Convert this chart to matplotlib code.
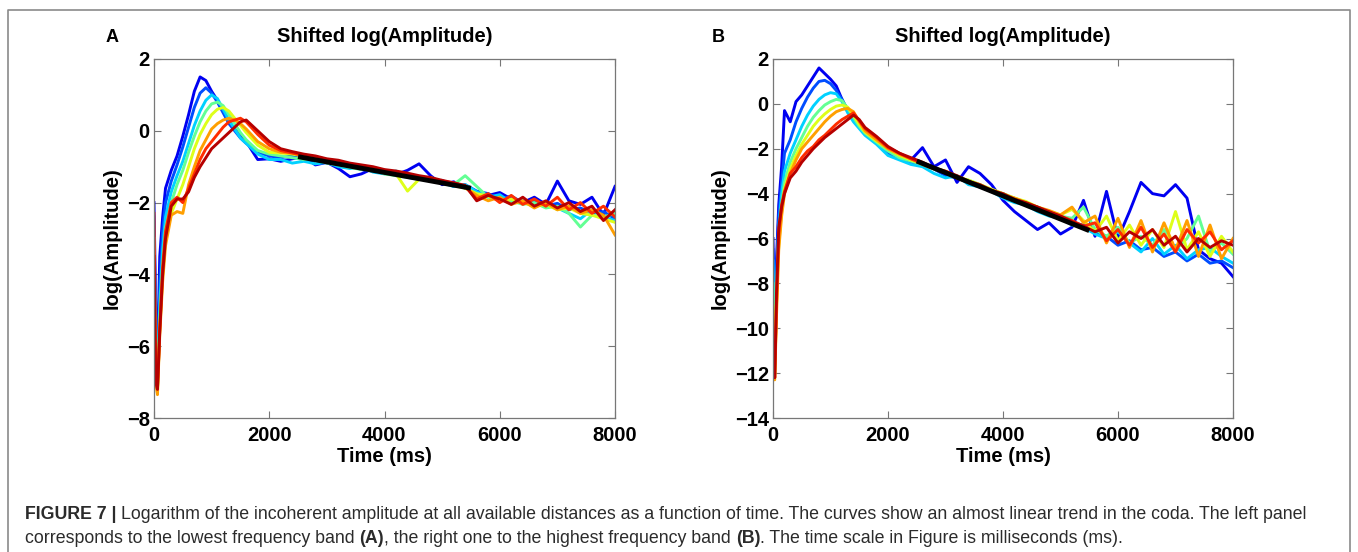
import matplotlib
matplotlib.use('Agg')
import matplotlib.pyplot as plt
from matplotlib.lines import Line2D

plt.rcParams['font.family'] = ['Liberation Sans', 'DejaVu Sans']

# sampling times (ms), shared by all curves
time_ms = [0, 30, 60, 100, 150, 200, 300, 400, 500, 600, 700, 800, 900, 1000,
           1100, 1200, 1300, 1400, 1500, 1600, 1800, 2000,
           2200, 2400, 2600, 2800, 3000, 3200, 3400, 3600, 3800, 4000,
           4200, 4400, 4600, 4800, 5000, 5200, 5400, 5600, 5800, 6000,
           6200, 6400, 6600, 6800, 7000, 7200, 7400, 7600, 7800, 8000]

# panel A: lowest frequency band, nearest (blue) to farthest (red) distance
a_curve1 = [-2.0, -5.0, -6.5, -3.5, -2.4, -1.6, -1.1, -0.7, -0.15, 0.45, 1.1, 1.5, 1.4, 1.1,
            0.85, 0.55, 0.25, 0.05, -0.1, -0.3, -0.8, -0.78,
            -0.85, -0.78, -0.72, -0.95, -0.88, -1.05, -1.28, -1.2, -1.05, -1.15,
            -1.22, -1.1, -0.92, -1.25, -1.5, -1.42, -1.6, -1.7, -1.8, -1.72,
            -1.9, -2.0, -1.85, -2.05, -1.4, -1.95, -2.05, -1.85, -2.35, -1.55]
a_curve2 = [-2.4, -5.8, -6.9, -4.2, -2.8, -2.0, -1.4, -0.95, -0.45, 0.1, 0.65, 1.05, 1.2, 1.05,
            0.8, 0.5, 0.2, 0.0, -0.2, -0.35, -0.6, -0.7,
            -0.75, -0.7, -0.82, -0.78, -0.9, -0.95, -0.92, -1.08, -1.12, -1.1,
            -1.25, -1.22, -1.3, -1.4, -1.38, -1.55, -1.5, -1.68, -1.75, -1.9,
            -1.82, -2.0, -1.95, -2.1, -2.02, -2.2, -2.15, -2.3, -2.25, -2.45]
a_curve3 = [-3.0, -6.2, -7.0, -4.8, -3.3, -2.4, -1.7, -1.25, -0.85, -0.35, 0.15, 0.55, 0.85, 1.0,
            0.9, 0.6, 0.3, 0.05, -0.2, -0.35, -0.65, -0.8,
            -0.8, -0.9, -0.85, -0.92, -0.88, -1.0, -1.05, -1.0, -1.15, -1.2,
            -1.12, -1.3, -1.35, -1.3, -1.45, -1.55, -1.5, -1.7, -1.85, -1.78,
            -2.0, -1.95, -2.05, -2.0, -2.15, -2.3, -2.45, -2.2, -2.4, -2.5]
a_curve4 = [-3.5, -6.5, -7.2, -5.2, -3.7, -2.7, -2.0, -1.5, -1.1, -0.6, -0.15, 0.25, 0.55, 0.75,
            0.8, 0.7, 0.45, 0.2, -0.05, -0.25, -0.55, -0.65,
            -0.7, -0.75, -0.8, -0.78, -0.9, -0.95, -1.02, -1.08, -1.05, -1.2,
            -1.25, -1.3, -1.28, -1.4, -1.45, -1.5, -1.25, -1.55, -1.85, -1.9,
            -1.95, -2.05, -2.0, -2.15, -2.1, -2.3, -2.68, -2.35, -2.4, -2.3]
a_curve5 = [-4.0, -6.8, -7.3, -5.5, -4.0, -3.0, -2.3, -1.9, -1.5, -1.0, -0.5, -0.1, 0.2, 0.45,
            0.6, 0.65, 0.55, 0.35, 0.15, -0.05, -0.4, -0.6,
            -0.62, -0.65, -0.7, -0.8, -0.85, -0.88, -0.95, -1.0, -1.08, -1.1,
            -1.2, -1.68, -1.35, -1.3, -1.45, -1.52, -1.6, -1.75, -1.82, -1.95,
            -1.9, -2.0, -2.1, -2.05, -2.2, -2.15, -2.3, -2.35, -2.45, -2.55]
a_curve6 = [-4.5, -7.0, -7.35, -5.7, -4.2, -3.2, -2.35, -2.25, -2.3, -1.5, -1.0, -0.55, -0.25, 0.05,
            0.2, 0.3, 0.35, 0.3, 0.2, 0.05, -0.3, -0.5,
            -0.6, -0.62, -0.72, -0.75, -0.82, -0.9, -0.95, -1.02, -1.05, -1.12,
            -1.18, -1.25, -1.3, -1.35, -1.42, -1.5, -1.58, -1.8, -1.95, -1.85,
            -2.05, -1.95, -2.15, -2.0, -2.2, -2.1, -2.3, -2.2, -2.35, -2.9]
a_curve7 = [-2.3, -6.8, -7.2, -5.5, -3.8, -2.8, -2.0, -1.85, -2.0, -1.6, -1.2, -0.8, -0.5, -0.3,
            -0.1, 0.1, 0.25, 0.3, 0.35, 0.25, -0.1, -0.4,
            -0.55, -0.62, -0.68, -0.72, -0.8, -0.85, -0.92, -0.98, -1.05, -1.1,
            -1.15, -1.22, -1.28, -1.32, -1.4, -1.45, -1.55, -1.9, -1.75, -2.0,
            -1.8, -2.05, -1.9, -2.1, -1.85, -2.2, -2.0, -2.3, -2.1, -2.4]
a_curve8 = [-3.5, -7.0, -7.2, -5.6, -4.0, -3.0, -2.1, -1.9, -1.9, -1.7, -1.3, -1.0, -0.75, -0.5,
            -0.35, -0.2, -0.05, 0.1, 0.25, 0.3, 0.0, -0.3,
            -0.5, -0.58, -0.65, -0.7, -0.78, -0.82, -0.9, -0.95, -1.0, -1.08,
            -1.12, -1.18, -1.25, -1.3, -1.38, -1.45, -1.52, -1.95, -1.8, -1.9,
            -2.05, -1.85, -2.1, -1.95, -2.15, -2.0, -2.25, -2.1, -2.5, -2.2]

# panel B: highest frequency band
b_curve1 = [-6.0, -10.5, -7.0, -4.5, -2.8, -0.3, -0.8, 0.1, 0.4, 0.8, 1.2, 1.6, 1.35, 1.1,
            0.8, 0.2, -0.3, -0.6, -0.9, -1.2, -1.75, -2.1,
            -2.3, -2.5, -1.95, -2.8, -2.5, -3.5, -2.8, -3.1, -3.6, -4.3,
            -4.8, -5.2, -5.6, -5.3, -5.8, -5.5, -4.3, -5.9, -3.9, -6.0,
            -4.8, -3.5, -4.0, -4.1, -3.6, -4.2, -6.5, -6.9, -7.1, -7.7]
b_curve2 = [-6.5, -11.0, -7.5, -5.0, -3.5, -2.2, -1.6, -0.8, -0.2, 0.3, 0.7, 1.0, 1.05, 0.9,
            0.6, 0.2, -0.3, -0.7, -1.0, -1.3, -1.7, -2.2,
            -2.4, -2.6, -2.7, -2.9, -3.2, -3.3, -3.5, -3.7, -3.9, -4.0,
            -4.3, -4.5, -4.6, -4.9, -5.0, -5.3, -5.4, -5.7, -5.9, -6.3,
            -6.1, -6.5, -6.4, -6.8, -6.6, -7.0, -6.7, -7.1, -7.0, -7.3]
b_curve3 = [-7.0, -11.5, -8.0, -5.5, -4.0, -3.0, -2.2, -1.6, -1.0, -0.5, -0.1, 0.2, 0.4, 0.5,
            0.45, 0.1, -0.4, -0.8, -1.1, -1.4, -1.8, -2.3,
            -2.5, -2.7, -2.8, -3.1, -3.3, -3.2, -3.6, -3.7, -3.9, -4.2,
            -4.4, -4.5, -4.8, -5.0, -5.1, -5.4, -5.5, -5.8, -6.0, -5.7,
            -6.2, -6.6, -6.0, -6.7, -6.3, -6.9, -6.5, -6.4, -6.8, -7.1]
b_curve4 = [-8.0, -12.0, -8.5, -6.0, -4.5, -3.5, -2.6, -2.0, -1.5, -1.0, -0.6, -0.3, -0.05, 0.1,
            0.2, 0.15, -0.2, -0.6, -1.0, -1.3, -1.7, -2.1,
            -2.4, -2.55, -2.7, -2.9, -3.05, -3.3, -3.4, -3.6, -3.85, -4.0,
            -4.2, -4.4, -4.6, -4.8, -5.0, -5.1, -4.6, -5.6, -5.9, -5.5,
            -6.2, -5.9, -6.3, -5.6, -6.5, -6.0, -5.0, -6.6, -6.2, -6.7]
b_curve5 = [-9.0, -12.2, -9.0, -6.3, -4.8, -3.8, -2.9, -2.3, -1.8, -1.4, -1.0, -0.7, -0.45, -0.25,
            -0.1, -0.05, -0.15, -0.5, -0.9, -1.25, -1.65, -2.0,
            -2.3, -2.5, -2.65, -2.85, -3.0, -3.25, -3.4, -3.6, -3.8, -4.0,
            -4.2, -4.35, -4.6, -4.8, -4.95, -4.7, -5.2, -5.7, -5.0, -6.1,
            -5.4, -6.3, -5.6, -6.4, -4.8, -6.5, -5.7, -6.8, -5.9, -6.6]
b_curve6 = [-10.0, -12.3, -9.5, -6.5, -5.0, -4.0, -3.1, -2.5, -2.0, -1.7, -1.4, -1.1, -0.8, -0.55,
            -0.35, -0.25, -0.2, -0.35, -0.8, -1.2, -1.6, -2.0,
            -2.25, -2.45, -2.7, -2.9, -3.05, -3.3, -3.45, -3.65, -3.85, -4.05,
            -4.2, -4.4, -4.6, -4.75, -4.95, -4.6, -5.3, -5.0, -6.2, -5.1,
            -6.4, -5.2, -6.6, -5.3, -6.5, -5.2, -6.8, -5.4, -6.9, -6.0]
b_curve7 = [-11.0, -12.2, -9.0, -5.8, -4.5, -3.9, -3.1, -2.8, -2.4, -2.1, -1.9, -1.6, -1.4, -1.15,
            -0.9, -0.7, -0.55, -0.4, -0.75, -1.1, -1.5, -1.95,
            -2.2, -2.45, -2.65, -2.85, -3.05, -3.3, -3.5, -3.65, -3.9, -4.05,
            -4.25, -4.45, -4.6, -4.85, -5.0, -5.2, -5.45, -5.3, -6.1, -5.6,
            -6.3, -5.5, -6.4, -5.8, -6.6, -5.6, -6.2, -5.7, -6.5, -6.1]
b_curve8 = [-12.0, -12.2, -8.5, -5.5, -4.6, -4.0, -3.3, -3.0, -2.6, -2.3, -2.0, -1.75, -1.5, -1.3,
            -1.1, -0.9, -0.7, -0.5, -0.7, -1.05, -1.45, -1.9,
            -2.2, -2.4, -2.6, -2.85, -3.0, -3.2, -3.45, -3.6, -3.85, -4.0,
            -4.25, -4.4, -4.6, -4.8, -5.0, -5.25, -5.45, -5.7, -5.5, -6.2,
            -5.7, -6.0, -5.6, -6.3, -5.9, -6.6, -6.0, -6.4, -6.1, -6.3]

# linear coda fits
fit_t = [2500, 5500]
fit_a = [-0.72, -1.6]
fit_b = [-2.55, -5.65]

# position of each curve in the jet colormap (near -> far)
jet_pos = [0.1, 0.2, 0.33, 0.47, 0.62, 0.74, 0.86, 0.95]

curves_a = [a_curve1, a_curve2, a_curve3, a_curve4, a_curve5, a_curve6, a_curve7, a_curve8]
curves_b = [b_curve1, b_curve2, b_curve3, b_curve4, b_curve5, b_curve6, b_curve7, b_curve8]

W, H = 1358, 552
fig = plt.figure(figsize=(W / 100, H / 100), dpi=100)
jet = plt.get_cmap('jet')


def draw_panel(rect, curves, fit_v, ylim, yticks, letter, letter_x):
    ax = fig.add_axes(rect)
    for pos, vals in zip(jet_pos, curves):
        ax.plot(time_ms, vals, color=jet(pos), lw=2.1)
    ax.plot(fit_t, fit_v, color='black', lw=3.5, solid_capstyle='butt')
    ax.set_xlim(0, 8000)
    ax.set_ylim(*ylim)
    ax.set_xticks([0, 2000, 4000, 6000, 8000])
    ax.set_yticks(yticks)
    ax.tick_params(direction='in', top=True, right=True, length=5, width=0.8,
                   color='#777777', labelsize=14.5, pad=3)
    ax.tick_params(axis='x', pad=6)
    for lab in ax.get_xticklabels() + ax.get_yticklabels():
        lab.set_fontweight('bold')
    for sp in ax.spines.values():
        sp.set_color('#777777')
        sp.set_linewidth(0.9)
    ax.set_title('Shifted log(Amplitude)', fontsize=14.5, fontweight='bold', pad=12)
    ax.set_xlabel('Time (ms)', fontsize=14.5, fontweight='bold', labelpad=1)
    ax.set_ylabel('log(Amplitude)', fontsize=14.5, fontweight='bold', labelpad=4)
    fig.text(letter_x / W, 1 - 37 / H, letter, fontsize=13, fontweight='bold',
             ha='center', va='center')
    return ax


ax_a = draw_panel([154 / W, 134 / H, 461 / W, 359 / H], curves_a, fit_a,
                  (-8, 2), [-8, -6, -4, -2, 0, 2], 'A', 112)
ax_b = draw_panel([773 / W, 134 / H, 460 / W, 359 / H], curves_b, fit_b,
                  (-14, 2), list(range(-14, 3, 2)), 'B', 718)

# outer frame (open at the bottom)
fx0, fx1, fy = 8 / W, 1350 / W, 1 - 10 / H
fig.add_artist(Line2D([fx0, fx0, fx1, fx1], [-0.05, fy, fy, -0.05],
                      transform=fig.transFigure, color='#8a8a8a', lw=1.2))

# caption
renderer = fig.canvas.get_renderer()
cap_color = '#2b2b2b'


def caption_line(pieces, x, y):
    for txt, bold in pieces:
        t = fig.text(x / W, 1 - y / H, txt, fontsize=12.8, color=cap_color,
                     fontweight='bold' if bold else 'normal', va='baseline')
        x += t.get_window_extent(renderer=renderer).width


caption_line([('FIGURE 7 | ', True),
              ('Logarithm of the incoherent amplitude at all available distances as a function of time. '
               'The curves show an almost linear trend in the coda. The left panel', False)], 25, 519)
caption_line([('corresponds to the lowest frequency band ', False), ('(A)', True),
              (', the right one to the highest frequency band ', False), ('(B)', True),
              ('. The time scale in Figure is milliseconds (ms).', False)], 25, 543)

fig.savefig('out.png', dpi=100)
